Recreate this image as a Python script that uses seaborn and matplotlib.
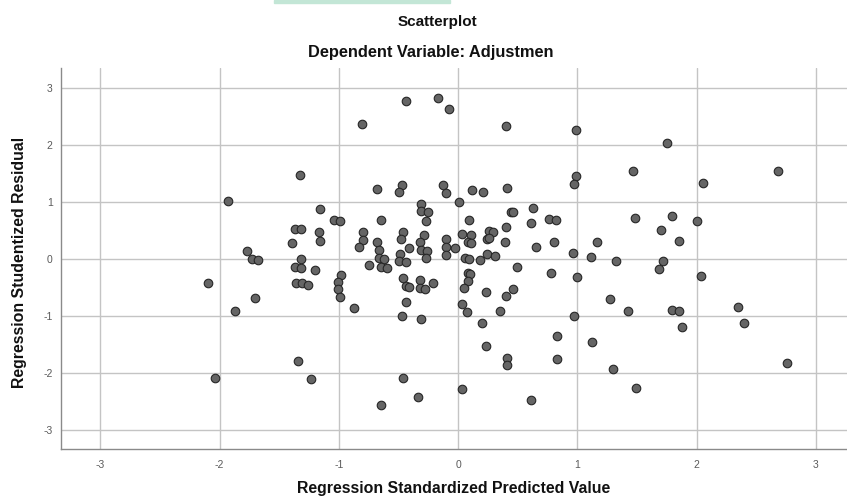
import matplotlib
matplotlib.use('Agg')
import matplotlib.pyplot as plt
from matplotlib.patches import Rectangle
import seaborn as sns
import pandas as pd

# values
predicted = [
    -2.10, -2.04, -1.93, -1.87, -1.77, -1.73, -1.68, -1.70, -1.33, -1.16,
    -1.04, -0.99, -1.37, -1.32, -1.17, -1.16, -1.39, -1.32, -1.37, -1.32,
    -1.20, -0.98, -1.01, -1.01, -0.99, -1.36, -1.31, -1.26, -1.34, -1.23,
    -0.87, -0.81, -0.44, -0.17, -0.08, -0.68, -0.47, -0.50, -0.13, -0.10,
    0.01, -0.65, -0.31, -0.31, -0.25, -0.27, -0.80, -0.80, -0.83, -0.46,
    -0.48, -0.41, -0.29, -0.32, -0.31, -0.26, -0.27, -0.10, -0.10, -0.10,
    -0.03, -0.68, -0.66, -0.66, -0.62, -0.65, -0.60, -0.49, -0.50, -0.44,
    -0.75, -0.46, -0.44, -0.41, -0.32, -0.32, -0.28, -0.21, -0.44, -0.47,
    -0.31, -0.46, -0.34, -0.65, 0.12, 0.21, 0.41, 0.40, 0.09, 0.44,
    0.46, 0.63, 0.61, 0.76, 0.82, 0.40, 0.03, 0.11, 0.08, 0.11,
    0.26, 0.29, 0.24, 0.39, 0.24, 0.31, 0.06, 0.09, 0.18, 0.65,
    0.80, 0.49, 0.78, 0.08, 0.10, 0.08, 0.05, 0.23, 0.46, 0.40,
    0.03, 0.07, 0.35, 0.20, 0.23, 0.41, 0.41, 0.83, 0.83, 0.03,
    0.61, 0.99, 0.99, 0.97, 1.47, 1.75, 2.68, 2.05, 1.48, 1.79,
    2.00, 1.70, 1.16, 1.85, 0.96, 1.11, 1.32, 1.72, 1.68, 1.00,
    2.04, 1.27, 1.42, 0.97, 1.79, 1.85, 1.88, 2.35, 2.40, 1.12,
    1.30, 1.49, 2.76, 0.26,
]
residual = [
    -0.42, -2.09, 1.02, -0.91, 0.14, 0.00, -0.02, -0.68, 1.47, 0.88,
    0.68, 0.67, 0.53, 0.53, 0.47, 0.32, 0.28, 0.00, -0.14, -0.16,
    -0.19, -0.28, -0.40, -0.53, -0.67, -0.42, -0.42, -0.46, -1.79, -2.11,
    -0.86, 2.37, 2.77, 2.82, 2.63, 1.23, 1.30, 1.18, 1.30, 1.16,
    1.00, 0.68, 0.96, 0.84, 0.82, 0.67, 0.47, 0.33, 0.21, 0.47,
    0.35, 0.19, 0.42, 0.30, 0.16, 0.14, 0.02, 0.35, 0.21, 0.07,
    0.19, 0.30, 0.16, 0.02, 0.00, -0.14, -0.16, 0.09, -0.04, -0.05,
    -0.11, -0.33, -0.47, -0.49, -0.37, -0.51, -0.53, -0.42, -0.75, -1.00,
    -1.05, -2.09, -2.42, -2.56, 1.21, 1.18, 1.25, 2.33, 0.68, 0.82,
    0.82, 0.89, 0.63, 0.70, 0.68, 0.56, 0.44, 0.42, 0.30, 0.28,
    0.49, 0.47, 0.35, 0.30, 0.09, 0.05, 0.02, 0.00, -0.02, 0.21,
    0.30, -0.14, -0.25, -0.25, -0.26, -0.39, -0.51, -0.58, -0.53, -0.65,
    -0.79, -0.93, -0.91, -1.12, -1.53, -1.74, -1.86, -1.35, -1.75, -2.28,
    -2.47, 2.26, 1.46, 1.32, 1.54, 2.04, 1.54, 1.33, 0.72, 0.75,
    0.67, 0.51, 0.30, 0.32, 0.11, 0.04, -0.04, -0.04, -0.18, -0.32,
    -0.30, -0.70, -0.91, -1.00, -0.89, -0.91, -1.19, -0.84, -1.12, -1.46,
    -1.93, -2.26, -1.82, 0.37,
]
ticks = [-3, -2, -1, 0, 1, 2, 3]

df = pd.DataFrame({'pred': predicted, 'resid': residual})

sns.set_style('white')
plt.rcParams['font.family'] = ['Liberation Sans', 'DejaVu Sans']
plt.rcParams['axes.unicode_minus'] = False

fig = plt.figure(figsize=(8.47, 5.01), dpi=100)
ax = fig.add_axes([0.072, 0.104, 0.928, 0.760])

sns.scatterplot(data=df, x='pred', y='resid', ax=ax, s=38,
                color='#656565', edgecolor='#262626', linewidth=0.8, zorder=3)

ax.set_xlim(-3.33, 3.26)
ax.set_ylim(-3.33, 3.35)
ax.set_xticks(ticks)
ax.set_yticks(ticks)
ax.grid(True, color='#c4c4c4', linewidth=1.0)
ax.set_axisbelow(True)

for side in ['top', 'right']:
    ax.spines[side].set_visible(False)
for side in ['left', 'bottom']:
    ax.spines[side].set_color('#8a8a8a')
    ax.spines[side].set_linewidth(1.0)

ax.tick_params(axis='both', length=0, labelsize=7.5, labelcolor='#5a5a5a')
ax.tick_params(axis='x', pad=8)
ax.tick_params(axis='y', pad=6)

ax.set_xlabel('Regression Standardized Predicted Value', fontsize=11.4,
              fontweight='bold', color='#111111')
ax.set_ylabel('Regression Studentized Residual', fontsize=11.4,
              fontweight='bold', color='#111111')
ax.xaxis.set_label_coords(0.499, -0.085)
ax.yaxis.set_label_coords(-0.043, 0.49)

fig.text(0.516, 0.956, 'Scatterplot', ha='center', va='center',
         fontsize=11, fontweight='bold', color='#111111')
fig.text(0.508, 0.896, 'Dependent Variable: Adjustmen', ha='center', va='center',
         fontsize=11.8, fontweight='bold', color='#111111')

# thin mint strip at the top edge
fig.patches.append(Rectangle((274 / 847, 1 - 3 / 501), 176 / 847, 3 / 501,
                             transform=fig.transFigure, color='#c3e6d6'))

fig.savefig('out.png', dpi=100)
